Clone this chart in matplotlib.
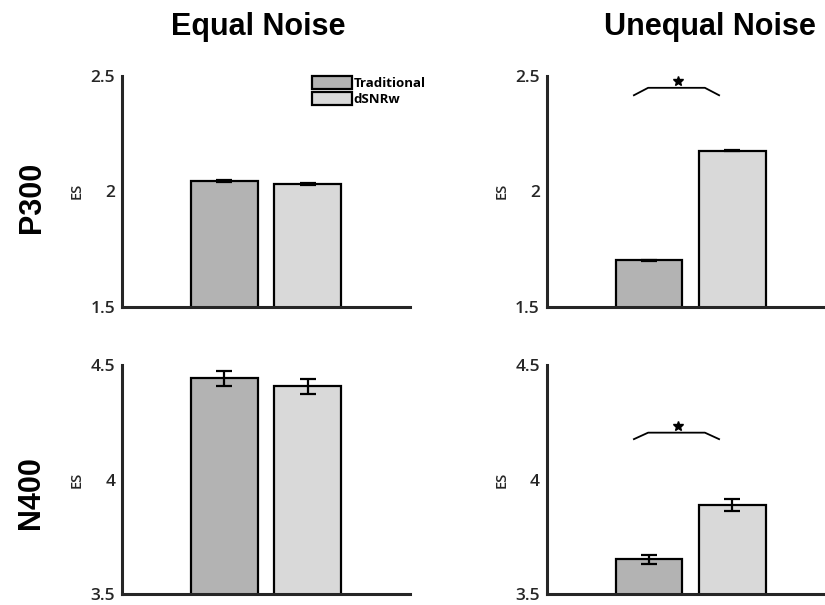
import matplotlib
matplotlib.use("Agg")
import matplotlib.pyplot as plt
import numpy as np

# ---- data ----
methods = ["Traditional", "dSNRw"]
conditions = ["Equal Noise", "Unequal Noise"]
components = ["P300", "N400"]
p300_equal = [2.042, 2.032]
p300_equal_err = [0.004, 0.004]
p300_unequal = [1.700, 2.175]
p300_unequal_err = [0.003, 0.003]
n400_equal = [4.444, 4.408]
n400_equal_err = [0.033, 0.034]
n400_unequal = [3.652, 3.891]
n400_unequal_err = [0.021, 0.027]
ylims = [(1.5, 2.5), (3.5, 4.5)]
yticks = [[1.5, 2, 2.5], [3.5, 4, 4.5]]
yticklabels = [["1.5", "2", "2.5"], ["3.5", "4", "4.5"]]
# significance brackets (unequal noise panels): y of ends, y of top line, y of star
sig_p300 = (2.413, 2.447, 2.477)
sig_n400 = (4.176, 4.206, 4.237)

bar_colors = ["#b3b3b3", "#d9d9d9"]
spine_col = "#262626"

fig = plt.figure(figsize=(8.25, 6.05), dpi=100)

W = 0.349
lefts = [0.1479, 0.6627]
bottoms = [0.4931, 0.0180]
heights = [0.3820, 0.3780]

data = [[(p300_equal, p300_equal_err), (p300_unequal, p300_unequal_err)],
        [(n400_equal, n400_equal_err), (n400_unequal, n400_unequal_err)]]
sigs = [sig_p300, sig_n400]

x = np.array([1, 2])
for r in range(2):
    for c in range(2):
        ax = fig.add_axes([lefts[c], bottoms[r], W, heights[r]])
        vals, errs = data[r][c]
        bars = ax.bar(x, vals, width=0.8, color=bar_colors, edgecolor="black",
                      linewidth=1.6, bottom=0, zorder=2, label=None)
        ax.errorbar(x, vals, yerr=errs, fmt="none", ecolor="black",
                    elinewidth=1.6, capsize=5.8, capthick=1.6, zorder=3)
        ax.set_xlim(-0.225, 3.225)
        ax.set_ylim(*ylims[r])
        ax.set_yticks(yticks[r])
        ax.set_yticklabels(yticklabels[r], fontfamily="Open Sans",
                           fontsize=12.5, fontweight="semibold", color="#262626")
        ax.tick_params(axis="y", length=0, pad=5)
        ax.set_xticks([])
        for s in ["top", "right"]:
            ax.spines[s].set_visible(False)
        for s in ["left", "bottom"]:
            ax.spines[s].set_color(spine_col)
            ax.spines[s].set_linewidth(2.2)
        ax.spines["left"].set_zorder(4)
        ax.spines["bottom"].set_zorder(4)
        ax.set_ylabel("ES", fontfamily="Open Sans", fontsize=10.5,
                      fontweight="semibold", labelpad=5, color="#262626")
        if c == 1:
            y_end, y_top, y_star = sigs[r]
            ax.plot([0.81, 0.99, 1.67, 1.85], [y_end, y_top, y_top, y_end],
                    color="black", linewidth=1.3, solid_capstyle="butt",
                    clip_on=False, zorder=3)
            ax.plot([1.35], [y_star], marker="*", color="black",
                    markersize=7.5, linestyle="none", clip_on=False)
        if r == 0 and c == 0:
            for b, m in zip(bars, methods):
                b.set_label(m)
            ax.legend(loc="upper left", bbox_to_anchor=(0.659, 1.0),
                      frameon=False, borderpad=0, borderaxespad=0,
                      handlelength=3.05, handleheight=1.14, handletextpad=0.12,
                      labelspacing=0.22,
                      prop={"family": "Open Sans", "size": 9.5, "weight": "bold"})

fig.text(0.3133, 0.955, conditions[0], ha="center", va="center",
         fontfamily="Liberation Sans", fontsize=22, fontweight="bold")
fig.text(0.8606, 0.955, conditions[1], ha="center", va="center",
         fontfamily="Liberation Sans", fontsize=22, fontweight="bold")
fig.text(0.0388, 1 - 197 / 605, components[0], ha="center", va="center",
         rotation=90, fontfamily="Liberation Sans", fontsize=22, fontweight="bold")
fig.text(0.0370, 1 - 493 / 605, components[1], ha="center", va="center",
         rotation=90, fontfamily="Liberation Sans", fontsize=22, fontweight="bold")

fig.savefig("out.png", dpi=100)
